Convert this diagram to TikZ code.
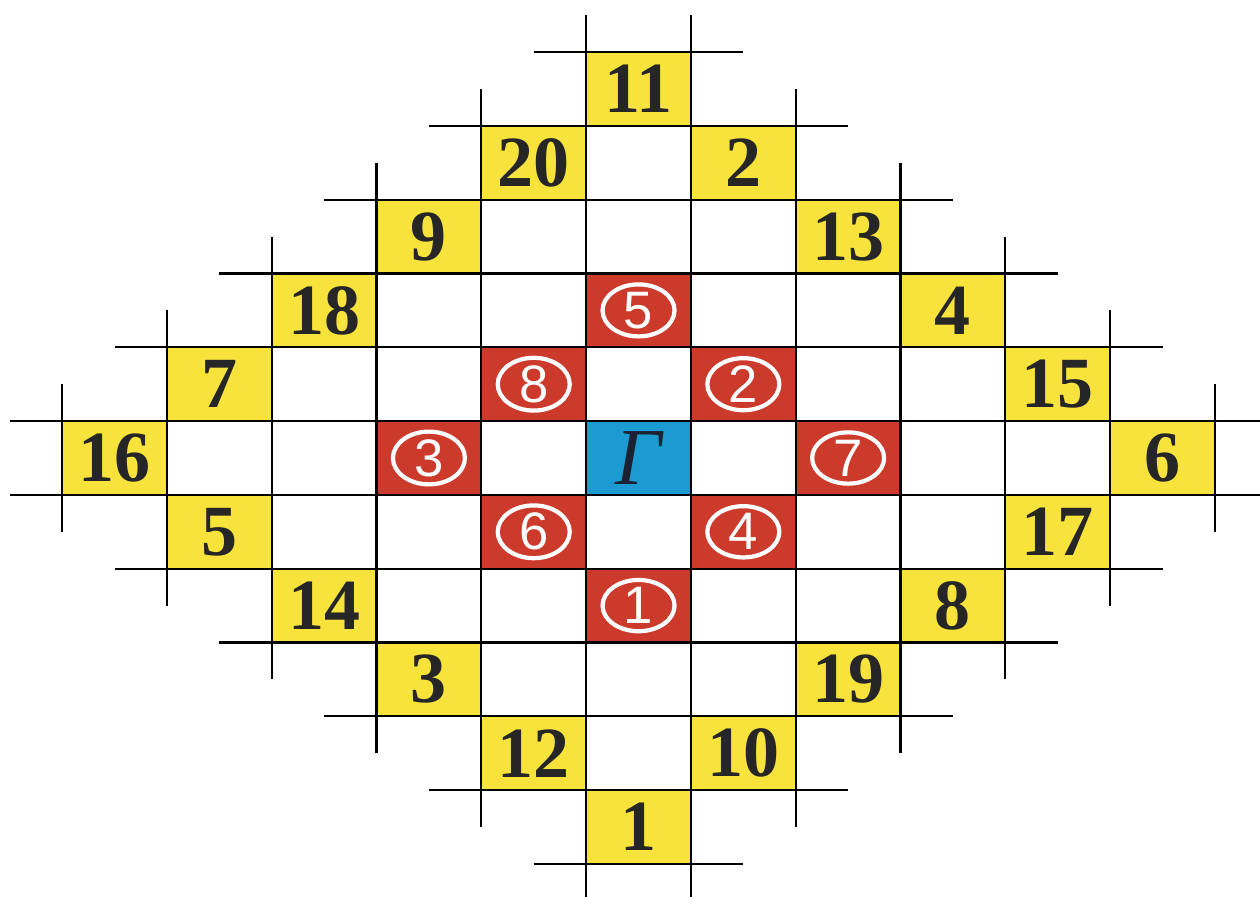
\documentclass[tikz,border=0pt]{standalone}
\usepackage{fontspec}
\setmainfont{Liberation Serif}
\newfontfamily\ringfont{Liberation Sans}
\usetikzlibrary{shapes.geometric}
\definecolor{cellyellow}{RGB}{248,227,60}
\definecolor{cellred}{RGB}{204,58,44}
\definecolor{cellblue}{RGB}{28,154,210}
\definecolor{gammaink}{RGB}{27,34,49}
\tikzset{
	cell/.style={rectangle,inner sep=0pt,minimum width=1.048cm,minimum height=0.738cm},
	numcell/.style={cell,fill=cellyellow,text=black!85,font=\bfseries\fontsize{20.5}{20.5}\selectfont},
	redcell/.style={cell,fill=cellred},
	ring/.style={ellipse,draw=white,line width=1.2pt,inner sep=0pt,minimum width=0.72cm,minimum height=0.47cm,
		text=white,font=\ringfont\fontsize{15}{15}\selectfont},
}
\begin{document}
\begin{tikzpicture}[x=1.048cm,y=0.738cm,line width=0.6pt]
	\useasboundingbox (-6.093,-5.948) rectangle (5.930,6.206);
	\foreach \c/\r/\t in {0/5/11, -1/4/20, 1/4/2, -2/3/9, 2/3/13, -3/2/18, 3/2/4, -4/1/7, 4/1/15,
		-5/0/16, 5/0/6, -4/-1/5, 4/-1/17, -3/-2/14, 3/-2/8, -2/-3/3, 2/-3/19, -1/-4/12, 1/-4/10, 0/-5/1}{
		\node[numcell] (n\t) at (\c,\r) {\t};
	}
	\foreach \c/\r/\t in {0/2/5, -1/1/8, 1/1/2, -2/0/3, 2/0/7, -1/-1/6, 1/-1/4, 0/-2/1}{
		\node[redcell] (r\t) at (\c,\r) {};
		\node[ring] (o\t) at (r\t) {\t};
	}
	\node[cell,fill=cellblue,text=gammaink,font=\itshape\fontsize{23}{23}\selectfont] (gamma) at (0,0) {Γ};
	% grid lines, half a cell past the outer cells
	\foreach \k in {0,...,5}{
		\draw ({\k+0.5},{\k-6}) -- ({\k+0.5},{6-\k}) ({-\k-0.5},{\k-6}) -- ({-\k-0.5},{6-\k})
			({\k-6},{\k+0.5}) -- ({6-\k},{\k+0.5}) ({\k-6},{-\k-0.5}) -- ({6-\k},{-\k-0.5});
	}
\end{tikzpicture}
\end{document}
